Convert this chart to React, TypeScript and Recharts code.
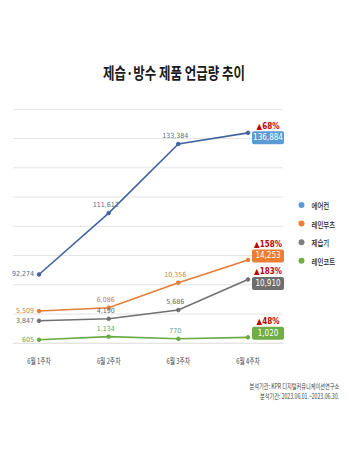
import React from 'react';
import { LineChart, Line, XAxis, YAxis, CartesianGrid, LabelList } from 'recharts';

const weeks = ['6월 1주차', '6월 2주차', '6월 3주차', '6월 4주차'];
const aircon = [92274, 111612, 133384, 136884];
const rainBoots = [5509, 6086, 10356, 14253];
const dehumidifier = [3847, 4190, 5686, 10910];
const raincoat = [605, 1134, 770, 1020];
const seriesNames = ['에어컨', '레인부츠', '제습기', '레인코트'];
const growthLabels = ['▲68%', '▲158%', '▲183%', '▲48%'];
const lowTicks = [0, 5000, 10000, 15000, 20000, 25000, 30000, 35000, 40000];
const title = '제습·방수 제품 언급량 추이';
const sourceLines = ['분석기관: KPR 디지털커뮤니케이션연구소', '분석기간: 2023.06.01.~2023.06.30.'];

const data = weeks.map((w, i) => ({
  week: w,
  aircon: aircon[i],
  rainBoots: rainBoots[i],
  dehumidifier: dehumidifier[i],
  raincoat: raincoat[i],
}));

const keys = ['aircon', 'rainBoots', 'dehumidifier', 'raincoat'];
const lineColors = ['#41649F', '#E67C35', '#707070', '#6AAB45'];
const labelColors = ['#5A6B85', '#C8834A', '#666666', '#6AA84F'];
const boxColors = ['#5B9BD5', '#ED7D31', '#6E6E6E', '#70AD47'];
const legendColors = ['#5B9BD5', '#ED7D31', '#7F7F7F', '#70AD47'];
const boxOffsets = [5, -4, 4, -4];

const numFont = "'Liberation Sans Narrow', 'DejaVu Sans Condensed', 'Liberation Sans', sans-serif";
const krFont = "'Noto Sans CJK KR', 'Noto Sans', sans-serif";

const fmt = (v: number) => v.toLocaleString('en-US');

function makeLabel(si: number) {
  return (props: any) => {
    const { x, y, index, value } = props;
    const v = fmt(Number(value));
    if (index === 0) {
      return (
        <text x={x - 5} y={y} textAnchor="end" dominantBaseline="central" fontSize={7} fontFamily={numFont} fill={labelColors[si]}>
          {v}
        </text>
      );
    }
    if (index === 3) {
      const cy = y + boxOffsets[si];
      const bx = x + 4;
      const bw = 32;
      const bh = 13;
      return (
        <g>
          <rect x={bx} y={cy - bh / 2} width={bw} height={bh} rx={2} fill={boxColors[si]} />
          <text x={bx + bw / 2} y={cy} textAnchor="middle" dominantBaseline="central" fontSize={8} fontFamily={numFont} fill="#ffffff">
            {v}
          </text>
          <text x={bx + bw / 2} y={cy - bh / 2 - 5} textAnchor="middle" dominantBaseline="central" fontSize={8} fontWeight="bold" fontFamily={numFont} fill="#C00000">
            {growthLabels[si]}
          </text>
        </g>
      );
    }
    return (
      <text x={x - 3} y={y - 8} textAnchor="middle" dominantBaseline="central" fontSize={7} fontFamily={numFont} fill={labelColors[si]}>
        {v}
      </text>
    );
  };
}

const Tick = (props: any) => {
  const { x, payload } = props;
  return (
    <g transform={`translate(${x},361) scale(0.72,1)`}>
      <text x={0} y={0} textAnchor="middle" dominantBaseline="central" fontSize={8} fontFamily={krFont} fill="#404040">
        {payload.value}
      </text>
    </g>
  );
};

export default function App() {
  return (
    <div style={{ position: 'absolute', left: 0, top: 0, width: 359, height: 454, background: '#ffffff' }}>
      <LineChart
        width={359}
        height={454}
        data={data}
        margin={{ top: 109.3, left: 13, right: 76, bottom: 90.7 }}
      >
        <CartesianGrid yAxisId="low" vertical={false} stroke="#E3E3E3" />
        <XAxis
          dataKey="week"
          padding={{ left: 26, right: 35 }}
          axisLine={{ stroke: '#E3E3E3' }}
          tickLine={false}
          tick={<Tick />}
          height={20}
          interval={0}
        />
        <YAxis yAxisId="low" domain={[0, 40000]} ticks={lowTicks} hide />
        <YAxis yAxisId="high" domain={[70600, 144300]} hide allowDataOverflow />
        {keys.map((k, si) => (
          <Line
            key={k}
            yAxisId={si === 0 ? 'high' : 'low'}
            dataKey={k}
            name={seriesNames[si]}
            type="linear"
            stroke={lineColors[si]}
            strokeWidth={1.6}
            dot={{ r: 1.8, fill: lineColors[si], stroke: lineColors[si], strokeWidth: 1 }}
            activeDot={false}
            isAnimationActive={false}
          >
            <LabelList dataKey={k} content={makeLabel(si)} />
          </Line>
        ))}
      </LineChart>
      <svg width={359} height={454} style={{ position: 'absolute', left: 0, top: 0, pointerEvents: 'none' }}>
        <g transform="translate(174,72) scale(0.78,1)">
          <text x={0} y={0} textAnchor="middle" dominantBaseline="central" fontSize={16} fontWeight="bold" fontFamily={krFont} fill="#1a1a1a">
            {title}
          </text>
        </g>
        {seriesNames.map((n, i) => (
          <g key={n}>
            <circle cx={301.5} cy={205 + i * 18.6} r={3} fill={legendColors[i]} />
            <g transform={`translate(311.5,${205 + i * 18.6}) scale(0.76,1)`}>
              <text x={0} y={0} dominantBaseline="central" fontSize={8.5} fontWeight={500} fontFamily={krFont} fill="#262626">
                {n}
              </text>
            </g>
          </g>
        ))}
        <g transform="translate(339.3,386) scale(0.74,1)">
          <text x={0} y={0} textAnchor="end" dominantBaseline="central" fontSize={7} fontFamily={krFont} fill="#404040">
            {sourceLines[0]}
          </text>
        </g>
        <g transform="translate(339,396.5) scale(0.74,1)">
          <text x={0} y={0} textAnchor="end" dominantBaseline="central" fontSize={7} fontFamily={krFont} fill="#404040">
            {sourceLines[1]}
          </text>
        </g>
      </svg>
    </div>
  );
}
